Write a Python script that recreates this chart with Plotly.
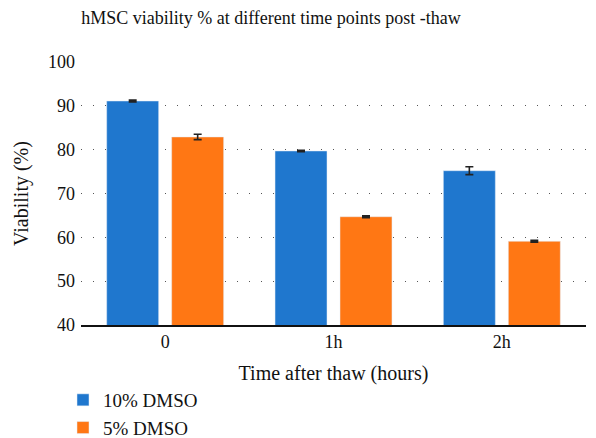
import plotly.graph_objects as go

categories = ["0", "1h", "2h"]
dmso10 = [91.1, 79.7, 75.2]
dmso10_err = [0.2, 0.15, 0.9]
dmso5 = [82.9, 64.7, 59.1]
dmso5_err = [0.6, 0.2, 0.2]
yticks = [40, 50, 60, 70, 80, 90, 100]

FONT = "Liberation Serif"
err_style = dict(type="data", thickness=1.6, width=4, color="#222222")

L, R, T, B = 81, 10, 62, 113
PW = 596 - L - R
PH = 438 - T - B

fig = go.Figure()
fig.add_trace(go.Bar(x=categories, y=dmso10, name="10% DMSO", marker_color="#1f77ce",
                     error_y=dict(array=dmso10_err, **err_style)))
fig.add_trace(go.Bar(x=categories, y=dmso5, name="5% DMSO", marker_color="#ff7714",
                     error_y=dict(array=dmso5_err, **err_style)))

fig.update_layout(
    width=596, height=438,
    margin=dict(l=L, r=R, t=T, b=B, autoexpand=False),
    paper_bgcolor="white", plot_bgcolor="white",
    font=dict(family=FONT, size=17, color="#111111"),
    barmode="group", bargap=0.228, bargroupgap=0.2,
    title=dict(text="hMSC viability % at different time points post -thaw",
               x=271/596, xref="container", xanchor="center",
               y=1-18/438, yref="container", yanchor="middle",
               font=dict(family=FONT, size=18, color="#111111")),
    xaxis=dict(showline=True, linecolor="#111111", linewidth=1.5, ticks="",
               tickfont=dict(family=FONT, size=18),
               title=dict(text="Time after thaw (hours)", standoff=15),
               showgrid=False),
    yaxis=dict(range=[40, 100], tickvals=yticks, showgrid=True, gridcolor="#555555",
               gridwidth=1, griddash="1px,11px", zeroline=False, ticks="",
               ticklabelstandoff=5, tickfont=dict(family=FONT, size=18),
               title=dict(text="Viability (%)", standoff=14)),
    legend=dict(orientation="v", x=(63 - L)/PW, xanchor="left",
                y=(438 - B - 381)/PH, yanchor="top",
                font=dict(family=FONT, size=19), tracegroupgap=0),
)

fig.write_html("out.html", post_script="document.body.style.margin='0';",
               config={"displayModeBar": False})
